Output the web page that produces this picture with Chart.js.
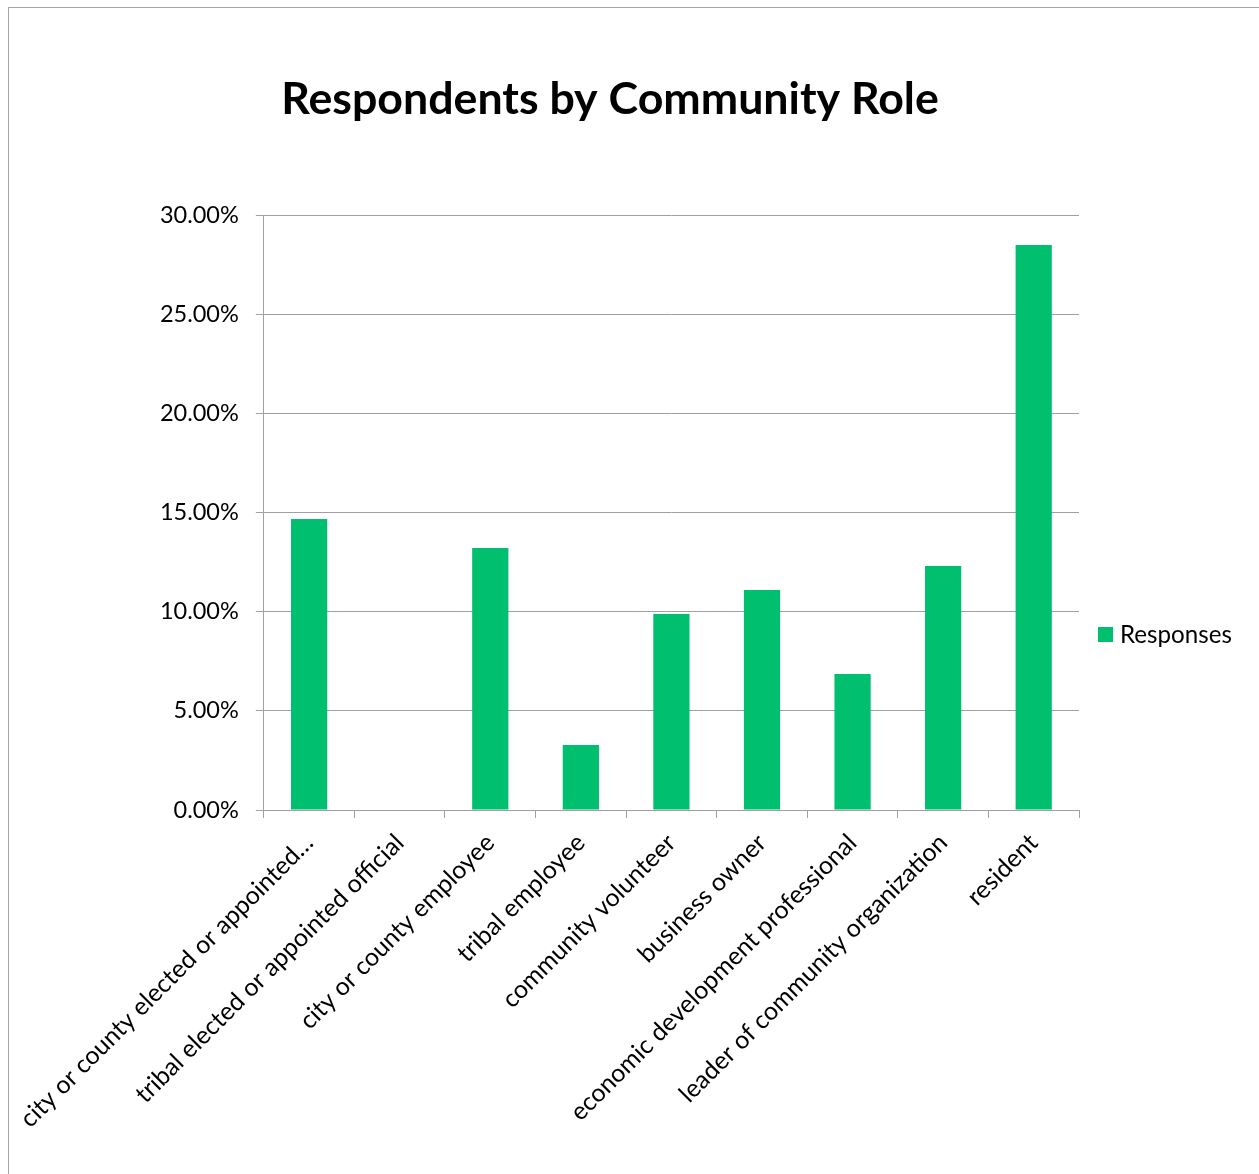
<!DOCTYPE html>
<html>
<head>
<meta charset="utf-8">
<script src="https://cdn.jsdelivr.net/npm/chart.js@4.4.1/dist/chart.umd.min.js"></script>
<style>
html,body{margin:0;padding:0;background:#fff;}
#wrap{position:relative;width:1259px;height:1174px;overflow:hidden;}
#frame{position:absolute;left:8px;top:7px;width:1300px;height:1300px;border-left:1px solid #a6a6a6;border-top:1px solid #a6a6a6;}
#c{position:absolute;left:0;top:0;}
</style>
</head>
<body>
<div id="wrap"><div id="frame"></div><canvas id="c" width="1259" height="1174"></canvas></div>
<script>
// ---- data ----
const chartTitle = 'Respondents by Community Role';
const categories = [
  'city or county elected or appointed…',
  'tribal elected or appointed official',
  'city or county employee',
  'tribal employee',
  'community volunteer',
  'business owner',
  'economic development professional',
  'leader of community organization',
  'resident'
];
const seriesName = 'Responses';
const responses = [14.67, 0, 13.21, 3.28, 9.88, 11.09, 6.86, 12.30, 28.49];
const yMin = 0, yMax = 30, yStep = 5;

// ---- styling ----
const FONT = 'Lato, "Noto Sans", sans-serif';
const BAR = '#00BF6F';
const GRID = '#a0a0a0';

function fitSize(text, targetW, weight) {
  const cx = document.createElement('canvas').getContext('2d');
  cx.font = (weight || 'normal') + ' 100px ' + FONT;
  return 100 * targetW / cx.measureText(text).width;
}
const titleSize = fitSize(chartTitle, 658, 'bold');
const tickSize = fitSize('30.00%', 79);
const catSize = tickSize * 1.06;
const legendSize = fitSize(seriesName, 112);

const overlay = {
  id: 'overlay',
  afterDraw(chart) {
    const ctx = chart.ctx;
    ctx.save();
    ctx.fillStyle = '#000';
    ctx.font = 'bold ' + titleSize + 'px ' + FONT;
    ctx.textAlign = 'center';
    ctx.textBaseline = 'alphabetic';
    ctx.fillText(chartTitle, 610, 114);
    // legend
    const ds = chart.data.datasets[0];
    ctx.fillStyle = ds.backgroundColor;
    ctx.fillRect(1098, 627, 15, 15);
    ctx.fillStyle = '#000';
    ctx.font = legendSize + 'px ' + FONT;
    ctx.textAlign = 'left';
    ctx.textBaseline = 'middle';
    ctx.fillText(ds.label, 1120, 635);
    ctx.restore();
  }
};

new Chart(document.getElementById('c'), {
  type: 'bar',
  data: {
    labels: categories,
    datasets: [{
      label: seriesName,
      data: responses,
      backgroundColor: BAR,
      borderWidth: 0,
      categoryPercentage: 1.0,
      barPercentage: 0.4
    }]
  },
  options: {
    responsive: false,
    animation: false,
    devicePixelRatio: 1,
    layout: { padding: { top: 215, right: 180, bottom: 0, left: 0 } },
    plugins: {
      legend: { display: false },
      title: { display: false },
      tooltip: { enabled: false }
    },
    scales: {
      x: {
        afterFit(s) { s.height = 1174 - 810; },
        grid: { display: true, offset: true, drawOnChartArea: false, drawTicks: true, tickLength: 8, color: GRID, lineWidth: 1 },
        border: { display: true, color: GRID, width: 1 },
        ticks: {
          color: '#000',
          font: { family: FONT, size: catSize },
          minRotation: 45, maxRotation: 45,
          autoSkip: false,
          padding: 10
        }
      },
      y: {
        min: yMin, max: yMax,
        afterFit(s) { s.width = 263; },
        grid: { display: true, drawTicks: true, tickLength: 8, color: GRID, lineWidth: 1 },
        border: { display: true, color: GRID, width: 1 },
        ticks: {
          stepSize: yStep,
          color: '#000',
          padding: 17,
          font: { family: FONT, size: tickSize },
          callback: v => v.toFixed(2) + '%'
        }
      }
    }
  },
  plugins: [overlay]
});
</script>
</body>
</html>
